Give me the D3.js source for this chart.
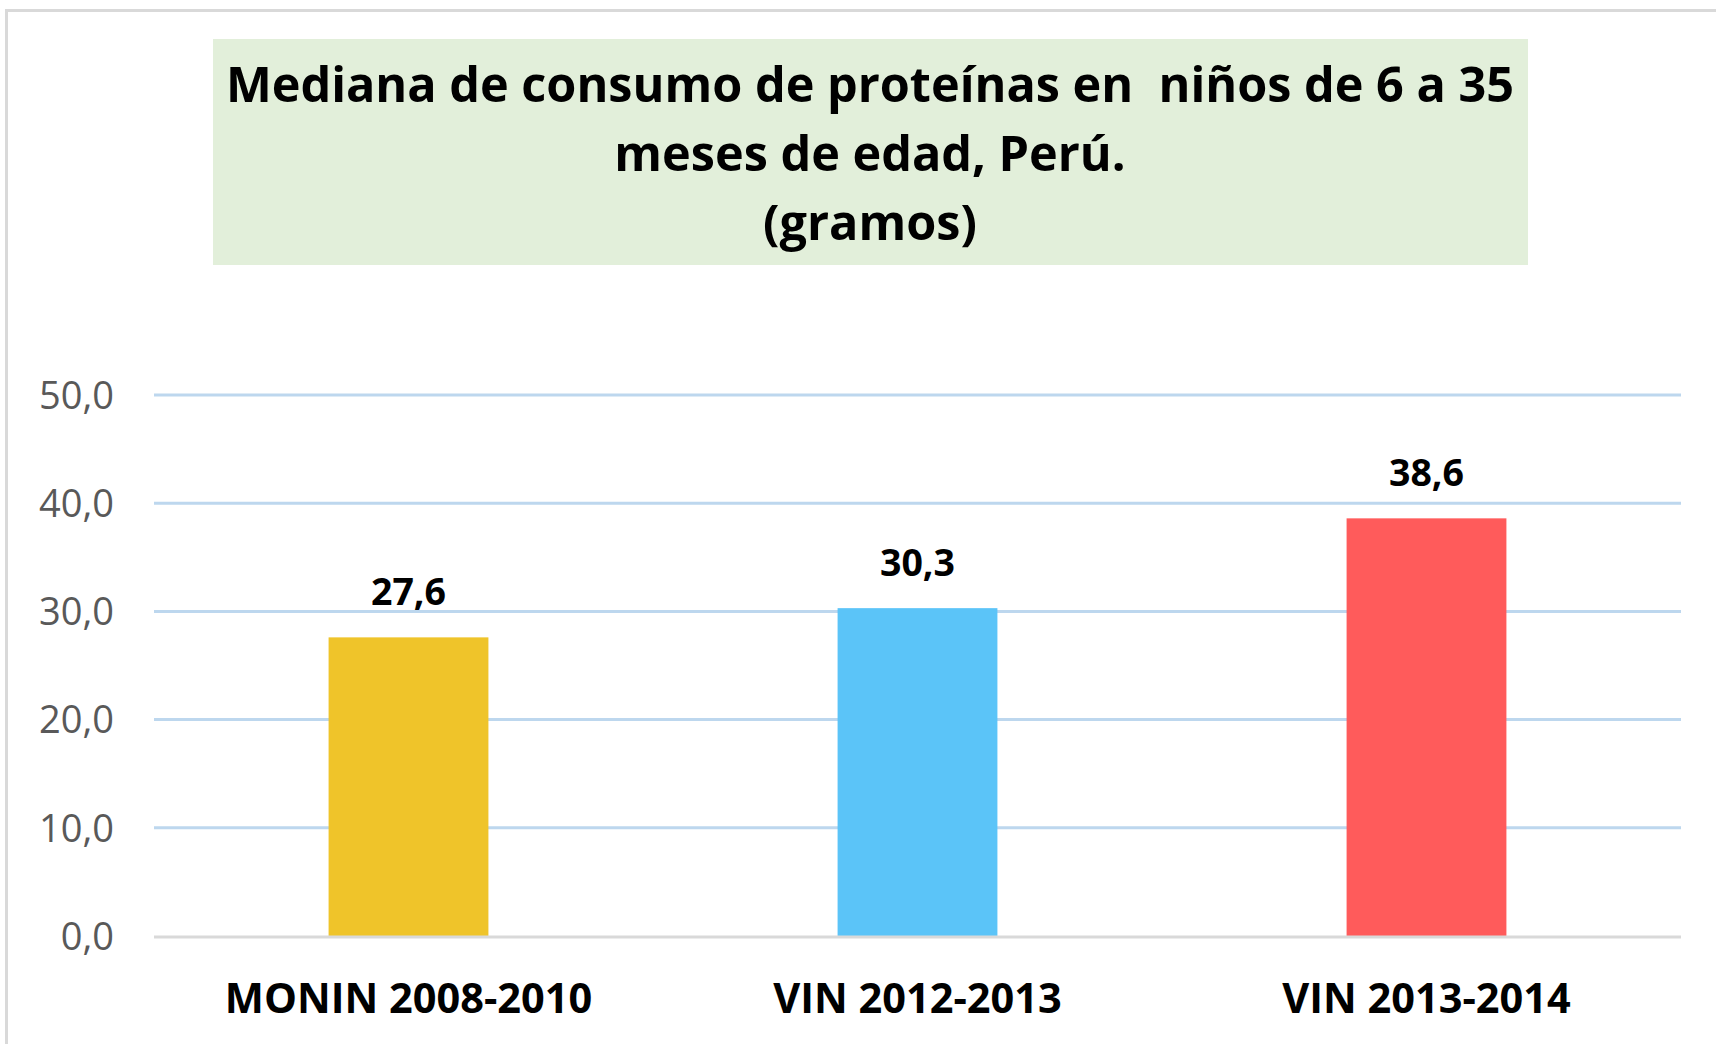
<!DOCTYPE html>
<html>
<head>
<meta charset="utf-8">
<script src="https://cdn.jsdelivr.net/npm/d3@7"></script>
<style>
  body { margin: 0; background: #fff; }
  text { font-family: "Open Sans", "Noto Sans", sans-serif; }
</style>
</head>
<body>
<svg id="chart" width="1716" height="1044"></svg>
<script>
var categories = ['MONIN 2008-2010', 'VIN 2012-2013', 'VIN 2013-2014'];
var values = [27.6, 30.3, 38.6];
var barColors = ['#efc42a', '#5bc4f8', '#ff5b5b'];
var yTicks = [0, 10, 20, 30, 40, 50];
var titleLines = ['Mediana de consumo de proteínas en  niños de 6 a 35', 'meses de edad, Perú.', '(gramos)'];

var svg = d3.select('#chart');

// outer frame (right and bottom edges fall outside the picture)
svg.append('rect')
    .attr('x', 6.5)
    .attr('y', 10.5)
    .attr('width', 1800)
    .attr('height', 1100)
    .style('fill', '#fff')
    .style('stroke', '#d9d9d9')
    .style('stroke-width', 3);

// title box
svg.append('rect')
    .attr('x', 213)
    .attr('y', 39)
    .attr('width', 1315)
    .attr('height', 226)
    .style('fill', '#e2efda');

svg.append('g').selectAll('text')
    .data(titleLines)
  .enter().append('text')
    .attr('x', 870)
    .attr('y', function(d, i) { return 102 + i * 69; })
    .attr('text-anchor', 'middle')
    .style('white-space', 'pre')
    .style('font-size', '48.6px')
    .style('font-weight', 700)
    .style('fill', '#000')
    .text(function(d) { return d; });

var x = d3.scaleBand()
    .domain(categories)
    .range([154, 1681])
    .paddingInner(0.686)
    .paddingOuter(0.343);

var y = d3.scaleLinear()
    .domain([0, 50])
    .range([936, 395]);

var fmt = function(v) { return d3.format('.1f')(v).replace('.', ','); };

// gridlines
svg.append('g').selectAll('line')
    .data(yTicks.filter(function(d) { return d > 0; }))
  .enter().append('line')
    .attr('x1', 154)
    .attr('x2', 1681)
    .attr('y1', function(d) { return y(d); })
    .attr('y2', function(d) { return y(d); })
    .style('stroke', '#bdd7ee')
    .style('stroke-width', 3);

// y axis labels
var yAxis = d3.axisLeft(y)
    .tickValues(yTicks)
    .tickFormat(fmt)
    .tickSize(0)
    .tickPadding(0);

var yg = svg.append('g')
    .attr('transform', 'translate(114,0)')
    .call(yAxis);
yg.select('.domain').remove();
yg.selectAll('text')
    .attr('dy', '0.35em')
    .style('font-family', '"Open Sans", sans-serif')
    .style('font-size', '38px')
    .style('fill', '#595959');

// bars
svg.append('g').selectAll('rect')
    .data(values)
  .enter().append('rect')
    .attr('x', function(d, i) { return x(categories[i]); })
    .attr('y', function(d) { return y(d); })
    .attr('width', x.bandwidth())
    .attr('height', function(d) { return y(0) - y(d); })
    .style('fill', function(d, i) { return barColors[i]; });

// baseline
svg.append('line')
    .attr('x1', 154)
    .attr('x2', 1681)
    .attr('y1', y(0) + 1)
    .attr('y2', y(0) + 1)
    .style('stroke', '#d9d9d9')
    .style('stroke-width', 3);

// value labels
svg.append('g').selectAll('text')
    .data(values)
  .enter().append('text')
    .attr('x', function(d, i) { return x(categories[i]) + x.bandwidth() / 2; })
    .attr('y', function(d) { return y(d) - 32; })
    .attr('text-anchor', 'middle')
    .style('font-size', '37.5px')
    .style('font-weight', 700)
    .style('fill', '#000')
    .text(fmt);

// x axis labels
var xAxis = d3.axisBottom(x).tickSize(0).tickPadding(0);
var xg = svg.append('g')
    .attr('transform', 'translate(0,1013)')
    .call(xAxis);
xg.select('.domain').remove();
xg.selectAll('text')
    .attr('dy', 0)
    .style('font-family', '"Open Sans", sans-serif')
    .style('font-size', '41.5px')
    .style('font-weight', 700)
    .style('fill', '#000');
</script>
</body>
</html>
